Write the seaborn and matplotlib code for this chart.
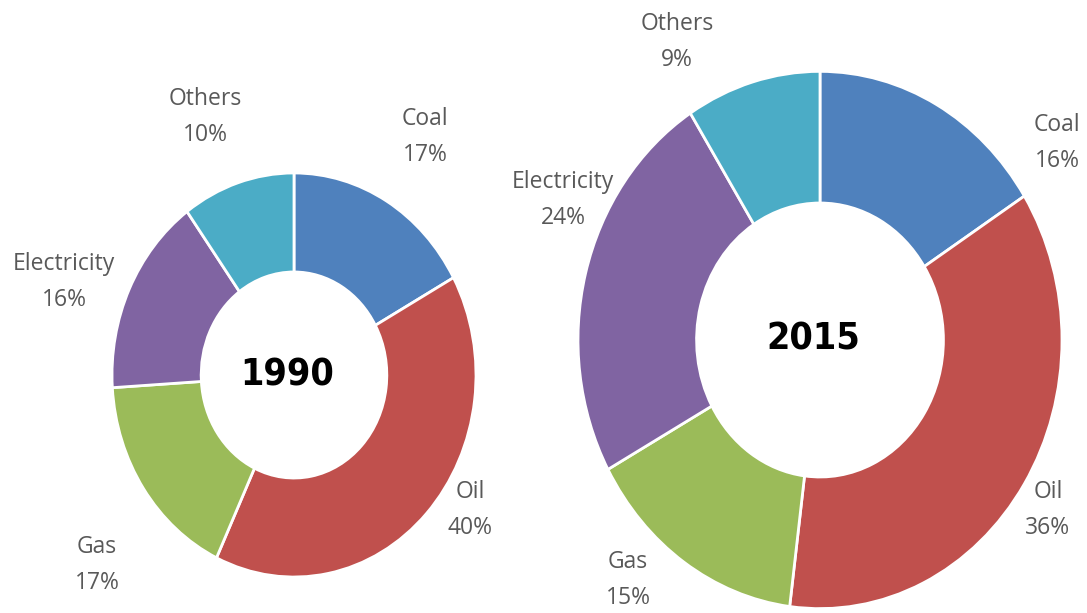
import matplotlib.pyplot as plt
import seaborn as sns

sns.set_theme(style='white')
plt.rcParams['font.family'] = ['Open Sans', 'DejaVu Sans']

categories = ['Coal', 'Oil', 'Gas', 'Electricity', 'Others']
share_1990 = [17, 40, 17, 16, 10]
share_2015 = [16, 36, 15, 24, 9]
years = ['1990', '2015']

colors = ['#4F81BD', '#C0504D', '#9BBB59', '#8064A2', '#4BACC6']
text_color = '#595959'

W, H = 1087, 613
stretch = 1.11  # the picture is taller than wide per unit

# layout in picture pixels: center x, center y, horizontal radius
charts = [
    (294, 375, 182),
    (820, 340, 242),
]
# label centers in picture pixels
label_pos = [
    [(425, 137), (470, 510), (97, 565), (64, 282), (205, 117)],
    [(1057, 143), (1048, 510), (628, 580), (563, 200), (677, 42)],
]

fig = plt.figure(figsize=(W / 100, H / 100), dpi=100)
ax = fig.add_axes([0, 0, 1, 1])

for values, year, (cx, cy, r), lpos in zip([share_1990, share_2015], years, charts, label_pos):
    center = (cx, (H - cy) / stretch)
    ax.pie(values, colors=colors, startangle=90, counterclock=False,
           center=center, radius=r,
           wedgeprops=dict(width=r * 0.49, edgecolor='white', linewidth=2))
    ax.text(center[0] - 7, center[1], year, ha='center', va='center',
            fontsize=27, fontweight='bold', color='black',
            family=['DejaVu Sans'], fontstretch='condensed')
    for cat, v, (px, py) in zip(categories, values, lpos):
        ax.text(px, (H - py) / stretch, f'{cat}\n{v}%', ha='center', va='center',
                fontsize=16.5, color=text_color, linespacing=1.7)

ax.set_aspect('auto')
ax.set_xlim(0, W)
ax.set_ylim(0, H / stretch)
ax.axis('off')

fig.savefig('out.png', dpi=100, facecolor='white')
